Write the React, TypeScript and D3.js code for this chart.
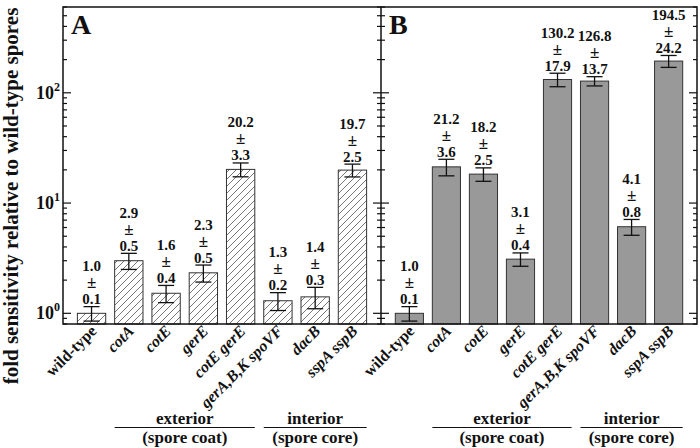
import React from 'react';
import * as d3 from 'd3';

const categories = ['wild-type', 'cotA', 'cotE', 'gerE', 'cotE gerE', 'gerA,B,K spoVF', 'dacB', 'sspA sspB'];
const italicFlags = [false, true, true, true, true, true, true, true];

// Panel A (hatched)
const valuesA = [1.0, 3.0, 1.52, 2.33, 20.2, 1.3, 1.41, 19.9];
const errorsA = [0.15, 0.5, 0.27, 0.41, 2.9, 0.24, 0.31, 2.65];
const meanLabelsA = ['1.0', '2.9', '1.6', '2.3', '20.2', '1.3', '1.4', '19.7'];
const sdLabelsA = ['0.1', '0.5', '0.4', '0.5', '3.3', '0.2', '0.3', '2.5'];

// Panel B (gray)
const valuesB = [1.0, 21.3, 18.3, 3.1, 132, 127.7, 6.1, 194];
const errorsB = [0.15, 3.65, 2.55, 0.43, 18.5, 12.3, 1.0, 24];
const meanLabelsB = ['1.0', '21.2', '18.2', '3.1', '130.2', '126.8', '4.1', '194.5'];
const sdLabelsB = ['0.1', '3.6', '2.5', '0.4', '17.9', '13.7', '0.8', '24.2'];

const yTickExps = [0, 1, 2];
const groups = [
  { name: 'exterior', sub: '(spore coat)', from: 'cotA', to: 'cotE gerE' },
  { name: 'interior', sub: '(spore core)', from: 'gerA,B,K spoVF', to: 'sspA sspB' },
];

const FONT = '"Liberation Serif", "Times New Roman", serif';
const TOP = 7;
const BOTTOM = 324;
const LEFT = 63;
const MID = 381;
const RIGHT = 697;

const y = d3.scaleLog().domain([0.8, 600]).range([BOTTOM, TOP]);

const minorTicks: number[] = [];
for (const d of [0.1, 1, 10, 100]) {
  for (let k = 2; k <= 9; k++) {
    const v = d * k;
    if (v >= 0.8 && v <= 600) minorTicks.push(v);
  }
}
const majorTicks = yTickExps.map((e) => Math.pow(10, e));

function Panel({ x0, x1, values, errors, meanLabels, sdLabels, fill, letter }: any) {
  const x = d3.scaleBand<string>().domain(categories).range([x0, x1]).paddingInner(0.24).paddingOuter(0.386);
  const bw = x.bandwidth();
  return (
    <g>
      {categories.map((c, i) => {
        const bx = x(c)!;
        const cx = bx + bw / 2;
        const v = values[i];
        const e = errors[i];
        const yt = y(v);
        const yHi = y(v + e);
        const yLo = y(v - e);
        return (
          <g key={c}>
            <rect x={bx} y={yt} width={bw} height={BOTTOM - yt} fill={fill} stroke="#333" strokeWidth={1} />
            <line x1={cx} x2={cx} y1={yHi} y2={yLo} stroke="#111" strokeWidth={1.3} />
            <line x1={cx - 8} x2={cx + 8} y1={yHi} y2={yHi} stroke="#111" strokeWidth={1.3} />
            <line x1={cx - 8} x2={cx + 8} y1={yLo} y2={yLo} stroke="#111" strokeWidth={1.3} />
            <g fontFamily={FONT} fontWeight="bold" fontSize={15} textAnchor="middle" fill="#111">
              <text x={cx} y={yHi - 2.5 - 33}>{meanLabels[i]}</text>
              <text x={cx} y={yHi - 2.5 - 16} fontSize={17}>±</text>
              <text x={cx} y={yHi - 2.5}>{sdLabels[i]}</text>
            </g>
            <text
              transform={`translate(${cx + 6},${BOTTOM + 8}) rotate(-45)`}
              textAnchor="end"
              fontFamily={FONT}
              fontWeight="bold"
              fontStyle={italicFlags[i] ? 'italic' : 'normal'}
              fontSize={16}
              fill="#111"
            >
              {c}
            </text>
          </g>
        );
      })}
      {groups.map((g) => {
        const gx0 = x(g.from)!;
        const gx1 = x(g.to)! + bw;
        const mx = (gx0 + gx1) / 2;
        return (
          <g key={g.name} fontFamily={FONT} fontWeight="bold" fontSize={17} textAnchor="middle" fill="#111">
            <text x={mx} y={424}>{g.name}</text>
            <line x1={gx0} x2={gx1} y1={427.5} y2={427.5} stroke="#111" strokeWidth={1.2} />
            <text x={mx} y={443}>{g.sub}</text>
          </g>
        );
      })}
      <text x={x0 + 8} y={33.5} fontFamily={FONT} fontWeight="bold" fontSize={28} fill="#111">
        {letter}
      </text>
    </g>
  );
}

export default function App() {
  return (
    <svg width={700} height={448} style={{ position: 'absolute', left: 0, top: 0, background: '#fff' }}>
      <defs>
        <pattern id="hatch" patternUnits="userSpaceOnUse" width={7} height={7}>
          <path d="M-1,1 l2,-2 M0,7 l7,-7 M6,8 l2,-2" stroke="#555" strokeWidth={0.8} />
        </pattern>
      </defs>
      <rect x={0} y={0} width={700} height={448} fill="#fff" />
      <Panel x0={LEFT} x1={MID} values={valuesA} errors={errorsA} meanLabels={meanLabelsA} sdLabels={sdLabelsA} fill="url(#hatch)" letter="A" />
      <Panel x0={MID} x1={RIGHT} values={valuesB} errors={errorsB} meanLabels={meanLabelsB} sdLabels={sdLabelsB} fill="#999" letter="B" />
      <g stroke="#111" strokeWidth={1.2}>
        {minorTicks.map((t) => (
          <g key={'m' + t}>
            <line x1={LEFT} x2={LEFT + 4} y1={y(t)} y2={y(t)} />
            <line x1={MID - 4} x2={MID + 4} y1={y(t)} y2={y(t)} />
            <line x1={RIGHT - 4} x2={RIGHT} y1={y(t)} y2={y(t)} />
          </g>
        ))}
        {majorTicks.map((t) => (
          <g key={'M' + t}>
            <line x1={LEFT} x2={LEFT + 8} y1={y(t)} y2={y(t)} />
            <line x1={MID - 8} x2={MID + 8} y1={y(t)} y2={y(t)} />
            <line x1={RIGHT - 8} x2={RIGHT} y1={y(t)} y2={y(t)} />
          </g>
        ))}
      </g>
      <g fontFamily={FONT} fontWeight="bold" fill="#111" textAnchor="end">
        {yTickExps.map((e) => (
          <text key={e} x={60} y={y(Math.pow(10, e)) + 6} fontSize={18}>
            10<tspan fontSize={12} dy={-8}>{e}</tspan>
          </text>
        ))}
      </g>
      <rect x={LEFT} y={TOP} width={RIGHT - LEFT} height={BOTTOM - TOP} fill="none" stroke="#111" strokeWidth={1.5} />
      <line x1={MID} x2={MID} y1={TOP} y2={BOTTOM} stroke="#111" strokeWidth={1.5} />
      <text
        transform={`translate(18,196) rotate(-90)`}
        textAnchor="middle"
        fontFamily={FONT}
        fontWeight="bold"
        fontSize={21}
        fill="#111"
      >
        fold sensitivity relative to wild-type spores
      </text>
    </svg>
  );
}
